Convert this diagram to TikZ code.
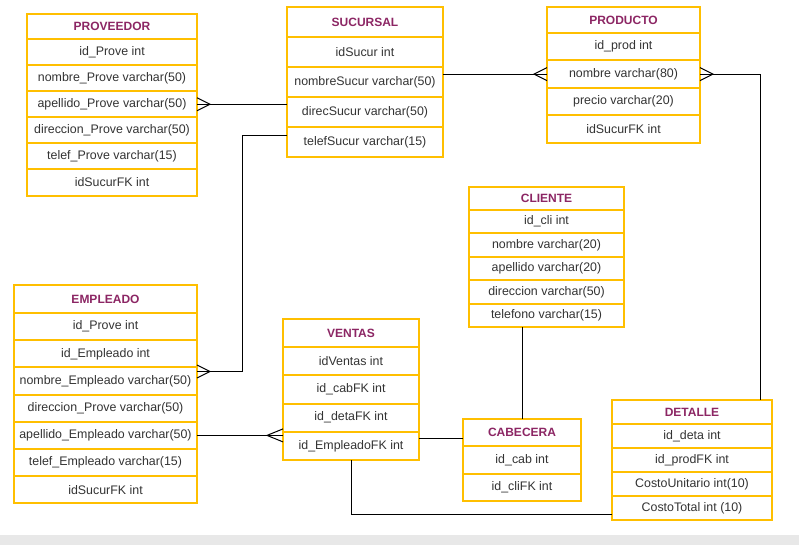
\documentclass[tikz,border=0pt]{standalone}
\usepackage{fontspec}
\setmainfont{Liberation Sans}
\usetikzlibrary{calc}
\definecolor{amber}{RGB}{255,191,0}
\definecolor{plum}{RGB}{140,38,100}
\definecolor{ink}{RGB}{51,51,51}
\definecolor{strip}{RGB}{232,232,232}
% one table: name, x, y, width, head height, row height, title, rows
\newcommand{\entity}[8]{%
  \node[tablehead, minimum width=#4*0.75pt, minimum height=#5*0.75pt] (#1) at (#2,#3) {#7};
  \foreach \txt [count=\i] in {#8}
    \node[field, minimum width=#4*0.75pt, minimum height=#6*0.75pt] (#1-\i) at (#2,{#3+#5+(\i-1)*#6}) {\txt};
}
% crow's foot at an edge point, opening towards the edge
\newcommand{\crow}[2]{\draw[link] ($(#1)+(0,-6.5)$) -- ($(#1)+(#2,0)$) -- ($(#1)+(0,6.5)$);}
\begin{document}
\begin{tikzpicture}[x=0.75pt, y=-0.75pt, font=\fontsize{9.3}{11}\selectfont,
    box/.style={draw=amber, line width=1.5pt, fill=white, anchor=north west, inner sep=0pt, outer sep=0pt},
    tablehead/.style={box, text=plum, font=\fontsize{9}{11}\selectfont\bfseries},
    field/.style={box, text=ink},
    link/.style={line width=0.75pt}]
  \useasboundingbox (0,0) rectangle (799,545);
  \fill[strip] (0,535) rectangle (799,545);

  \entity{prov}{27}{14}{170}{25}{26.1}{PROVEEDOR}{id\_Prove int, nombre\_Prove varchar(50), apellido\_Prove varchar(50), direccion\_Prove varchar(50), telef\_Prove varchar(15), idSucurFK int}
  \entity{sucu}{287}{7}{156}{30}{30}{SUCURSAL}{idSucur int, nombreSucur varchar(50), direcSucur varchar(50), telefSucur varchar(15)}
  \entity{prod}{547}{7}{153}{26}{27.4}{PRODUCTO}{id\_prod int, nombre varchar(80), precio varchar(20), idSucurFK int}
  \entity{cli}{469}{187}{155}{23}{23.4}{CLIENTE}{id\_cli int, nombre varchar(20), apellido varchar(20), direccion varchar(50), telefono varchar(15)}
  \entity{emp}{14}{285}{183}{28}{27.2}{EMPLEADO}{id\_Prove int, id\_Empleado int, nombre\_Empleado varchar(50), direccion\_Prove varchar(50), apellido\_Empleado varchar(50), telef\_Empleado varchar(15), idSucurFK int}
  \entity{vent}{283}{319}{136}{28}{28.25}{VENTAS}{idVentas int, id\_cabFK int, id\_detaFK int, id\_EmpleadoFK int}
  \entity{cabe}{463}{419}{118}{27}{27.5}{CABECERA}{id\_cab int, id\_cliFK int}
  \entity{deta}{612}{400}{160}{24}{24}{DETALLE}{id\_deta int, id\_prodFK int, CostoUnitario int(10), CostoTotal int (10)}

  % relations
  \draw[link] (prov-3.east) -- (prov-3.east -| sucu-3.west);
  \crow{prov-3.east}{13}
  \coordinate (s4) at ($(sucu-4.west)+(0,-6)$);
  \coordinate (e3) at ($(emp-3.east)+(0,-9.5)$);
  \draw[link] (s4) -- ++(-45,0) |- (e3);
  \crow{e3}{13}
  \draw[link] (sucu-2.east |- prod-2.west) -- (prod-2.west);
  \crow{prod-2.west}{-13}
  \draw[link] (prod-2.east) -| ([xshift=-9pt]deta.north east);
  \crow{prod-2.east}{13}
  \coordinate (v4) at (emp-5.east -| vent-4.west);
  \draw[link] (emp-5.east) -- (v4);
  \crow{v4}{-16}
  \coordinate (v4e) at ($(vent-4.north east)+(0,6.5)$);
  \draw[link] (v4e) -- (v4e -| cabe.west);
  \draw[link] (cli-5.south -| cabe.north) -- (cabe.north);
  \draw[link] (vent-4.south) |- ($(deta-4.west)+(0,6)$);
\end{tikzpicture}
\end{document}
